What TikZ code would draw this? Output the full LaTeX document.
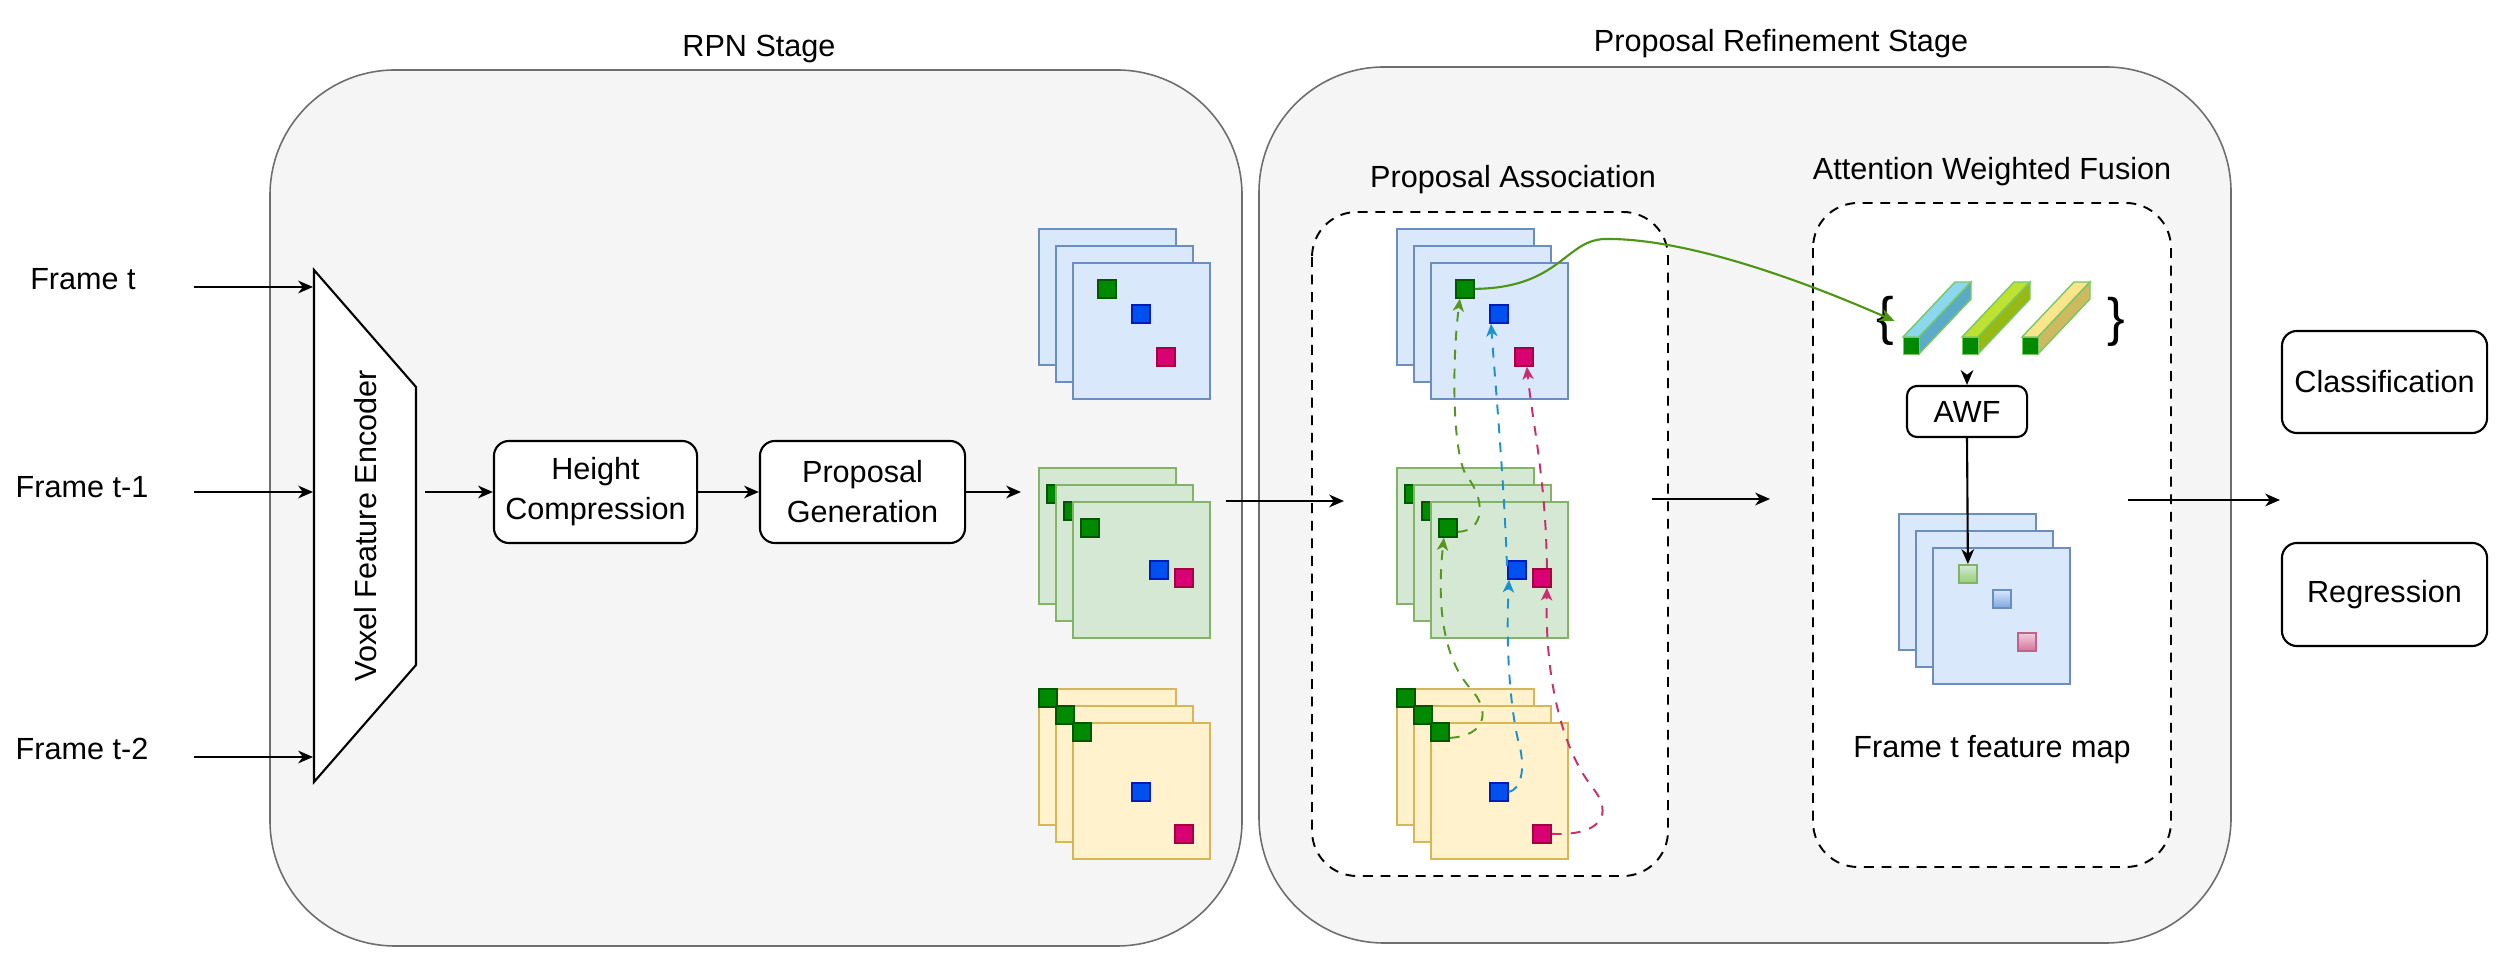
\documentclass[tikz,border=0pt]{standalone}
\usepackage{fontspec}
\setmainfont{Liberation Sans}
\usetikzlibrary{arrows.meta,calc}
\definecolor{stagefill}{RGB}{245,245,245}
\definecolor{stagedraw}{RGB}{110,110,110}
\definecolor{bluefill}{RGB}{218,232,252}
\definecolor{bluedraw}{RGB}{108,142,191}
\definecolor{greenfill}{RGB}{213,232,212}
\definecolor{greendraw}{RGB}{130,179,102}
\definecolor{yellowfill}{RGB}{255,242,204}
\definecolor{yellowdraw}{RGB}{214,182,86}
\definecolor{sqgreen}{RGB}{0,138,0}
\definecolor{sqgreend}{RGB}{0,87,0}
\definecolor{sqblue}{RGB}{0,80,239}
\definecolor{sqblued}{RGB}{0,29,188}
\definecolor{sqmag}{RGB}{216,0,115}
\definecolor{sqmagd}{RGB}{165,0,64}
\definecolor{lnkgreen}{RGB}{85,150,30}
\definecolor{lnkblue}{RGB}{30,145,205}
\definecolor{lnkmag}{RGB}{200,45,110}
\definecolor{solidgreen}{RGB}{77,150,20}
\definecolor{prismline}{RGB}{120,200,100}
\newcommand{\mkfm}[5]{\node[fm,fill=#4,draw=#5] (#1) at (#2,#3) {};}
\newcommand{\mkprism}[4]{%
  \filldraw[prismedge,fill=#3] (#2,337) -- ++(16,0) -- ++(52,-55) -- ++(-16,0) -- cycle;
  \filldraw[prismedge,fill=#4] (#2+16,337) -- ++(0,17) -- ++(52,-55) -- ++(0,-17) -- cycle;
  \node[prismfront] (#1) at (#2,337) {};}
\begin{document}
\begin{tikzpicture}[x=0.01cm,y=-0.01cm,
  every node/.style={font=\fontsize{8.7}{11.4}\selectfont},
  stage/.style={fill=stagefill,draw=stagedraw,line width=0.45pt,rounded corners=1.25cm},
  dbox/.style={fill=white,draw=black,line width=0.55pt,dash pattern=on 2.8pt off 2.2pt,rounded corners=0.45cm},
  proc/.style={draw=black,fill=white,line width=0.6pt,rounded corners=0.15cm,align=center,inner sep=0pt},
  lbl/.style={anchor=base,inner sep=0pt},
  arr/.style={line width=0.6pt,-{Stealth[length=4.2pt,width=3.6pt,inset=1.3pt]}},
  fm/.style={anchor=north west,minimum width=1.37cm,minimum height=1.36cm,inner sep=0pt,line width=0.5pt},
  sq/.style={anchor=north west,minimum size=0.18cm,inner sep=0pt,line width=0.5pt},
  sqg/.style={sq,fill=sqgreen,draw=sqgreend},
  sqb/.style={sq,fill=sqblue,draw=sqblued},
  sqm/.style={sq,fill=sqmag,draw=sqmagd},
  lsqg/.style={sq,top color={rgb,255:red,213;green,232;blue,212},bottom color={rgb,255:red,151;green,208;blue,119},draw=greendraw},
  lsqb/.style={sq,top color={rgb,255:red,218;green,232;blue,252},bottom color={rgb,255:red,126;green,166;blue,224},draw=bluedraw},
  lsqm/.style={sq,top color={rgb,255:red,242;green,205;blue,220},bottom color={rgb,255:red,215;green,115;blue,157},draw={rgb,255:red,190;green,100;blue,135}},
  lnk/.style={line width=0.55pt,dash pattern=on 2.8pt off 2.6pt,-{Stealth[length=3.6pt,width=3.2pt,inset=1pt]}},
  prismedge/.style={draw=prismline,line width=0.4pt},
  prismfront/.style={anchor=north west,minimum width=0.16cm,minimum height=0.17cm,inner sep=0pt,fill=sqgreen,draw=prismline,line width=0.4pt}
]
\useasboundingbox (0,0) rectangle (2509,971);
\fill[white] (0,0) rectangle (2509,971);

% stage boxes
\draw[stage] (270,70) rectangle (1242,946);
\draw[stage] (1259,67) rectangle (2231,943);
\node[lbl] (rpnlbl) at (759,57) {RPN Stage};
\node[lbl] (prslbl) at (1781,52) {Proposal Refinement Stage};

% dashed sub boxes
\draw[dbox] (1312,212) rectangle (1668,876);
\draw[dbox] (1813,203) rectangle (2171,867);
\node[lbl] (palbl) at (1513,188) {Proposal Association};
\node[lbl] (awflbl) at (1992,180) {Attention Weighted Fusion};

% inputs
\node[lbl] (ft0) at (83,290) {Frame t};
\node[lbl] (ft1) at (82,498) {Frame t-1};
\node[lbl] (ft2) at (82,760) {Frame t-2};
\coordinate (in0) at (194,287);
\coordinate (in1) at (194,492);
\coordinate (in2) at (194,757);

% encoder
\draw[fill=white,line width=0.6pt] (314,270) -- (416,387) -- (416,665) -- (314,782) -- cycle;
\node[rotate=90,inner sep=0pt] (enc) at (366,526) {Voxel Feature Encoder};
\coordinate (enc0) at (313,287);
\coordinate (enc1) at (313,492);
\coordinate (enc2) at (313,757);
\coordinate (encout) at (425,492);
\draw[arr] (in0) -- (enc0);
\draw[arr] (in1) -- (enc1);
\draw[arr] (in2) -- (enc2);

% process boxes
\node[proc,minimum width=2.03cm,minimum height=1.02cm] (hc) at (595.5,492) {Height\\Compression};
\node[proc,minimum width=2.05cm,minimum height=1.02cm] (pg) at (862.5,492) {Proposal\\Generation};
\draw[arr] (encout) -- (hc.west);
\draw[arr] (hc.east) -- (pg.west);
\coordinate (pgend) at (1021,492);
\draw[arr] (pg.east) -- (pgend);

% RPN stacks
\mkfm{Rb1}{1038}{228}{bluefill}{bluedraw}
\mkfm{Rb2}{1055}{245}{bluefill}{bluedraw}
\mkfm{Rb3}{1072}{262}{bluefill}{bluedraw}
\node[sqg] (Rbg) at (1097,279) {};
\node[sqb] (Rbb) at (1131,304) {};
\node[sqm] (Rbm) at (1156,347) {};

\mkfm{Rg1}{1038}{467}{greenfill}{greendraw}
\node[sqg] (Rgg1) at (1046,484) {};
\mkfm{Rg2}{1055}{484}{greenfill}{greendraw}
\node[sqg] (Rgg2) at (1063,501) {};
\mkfm{Rg3}{1072}{501}{greenfill}{greendraw}
\node[sqg] (Rgg3) at (1080,518) {};
\node[sqb] (Rgb) at (1149,560) {};
\node[sqm] (Rgm) at (1174,568) {};

\mkfm{Ry1}{1038}{688}{yellowfill}{yellowdraw}
\node[sqg] (Ryg1) at (1038,688) {};
\mkfm{Ry2}{1055}{705}{yellowfill}{yellowdraw}
\node[sqg] (Ryg2) at (1055,705) {};
\mkfm{Ry3}{1072}{722}{yellowfill}{yellowdraw}
\node[sqg] (Ryg3) at (1072,722) {};
\node[sqb] (Ryb) at (1131,782) {};
\node[sqm] (Rym) at (1174,824) {};

\coordinate (rpnout) at (1226,501);
\coordinate (pain) at (1344,501);
\draw[arr] (rpnout) -- (pain);

% PA stacks
\mkfm{Pb1}{1396}{228}{bluefill}{bluedraw}
\mkfm{Pb2}{1413}{245}{bluefill}{bluedraw}
\mkfm{Pb3}{1430}{262}{bluefill}{bluedraw}
\node[sqg] (Pbg) at (1455,279) {};
\node[sqb] (Pbb) at (1489,304) {};
\node[sqm] (Pbm) at (1514,347) {};

\mkfm{Pg1}{1396}{467}{greenfill}{greendraw}
\node[sqg] (Pgg1) at (1404,484) {};
\mkfm{Pg2}{1413}{484}{greenfill}{greendraw}
\node[sqg] (Pgg2) at (1421,501) {};
\mkfm{Pg3}{1430}{501}{greenfill}{greendraw}
\node[sqg] (Pgg3) at (1438,518) {};
\node[sqb] (Pgb) at (1507,560) {};
\node[sqm] (Pgm) at (1532,568) {};

\mkfm{Py1}{1396}{688}{yellowfill}{yellowdraw}
\node[sqg] (Pyg1) at (1396,688) {};
\mkfm{Py2}{1413}{705}{yellowfill}{yellowdraw}
\node[sqg] (Pyg2) at (1413,705) {};
\mkfm{Py3}{1430}{722}{yellowfill}{yellowdraw}
\node[sqg] (Pyg3) at (1430,722) {};
\node[sqb] (Pyb) at (1489,782) {};
\node[sqm] (Pym) at (1532,824) {};

% association links
\draw[lnk,draw=lnkgreen] ($(Pyg3.east)+(0,6)$) .. controls (1485,736) and (1492,712) .. (1470,688) .. controls (1445,660) and (1436,610) .. ($(Pgg3.south)+(-4,0)$);
\draw[lnk,draw=lnkgreen] ($(Pgg3.east)+(0,4)$) .. controls (1485,531) and (1486,500) .. (1466,475) .. controls (1452,450) and (1452,360) .. ($(Pbg.south)+(-5,0)$);
\draw[lnk,draw=lnkblue] (Pyb.east) .. controls (1520,790) and (1527,770) .. (1518,740) .. controls (1509,700) and (1506,640) .. ($(Pgb.south west)+(2,0)$);
\draw[lnk,draw=lnkblue] ($(Pgb.north west)+(0,6)$) .. controls (1504,480) and (1495,380) .. ($(Pbb.south west)+(2,0)$);
\draw[lnk,draw=lnkmag] (Pym.east) .. controls (1600,836) and (1615,815) .. (1592,787) .. controls (1562,748) and (1545,680) .. ($(Pgm.south)+(5,0)$);
\draw[lnk,draw=lnkmag] ($(Pgm.north)+(5,0)$) .. controls (1546,480) and (1532,420) .. ($(Pbm.south)+(3,0)$);

\draw[arr] (1652,499) coordinate (paout) -- (1770,499) coordinate (awfin);

% AWF part
\node[inner sep=0pt,font=\fontsize{15}{18}\selectfont] (lbr) at (1885,321) {\{};
\node[inner sep=0pt,font=\fontsize{15}{18}\selectfont] (rbr) at (2116,322) {\}};
\mkprism{bar1}{1903}{{rgb,255:red,140;green,215;blue,240}}{{rgb,255:red,90;green,170;blue,200}}
\mkprism{bar2}{1962}{{rgb,255:red,190;green,225;blue,50}}{{rgb,255:red,150;green,185;blue,20}}
\mkprism{bar3}{2022}{{rgb,255:red,250;green,228;blue,140}}{{rgb,255:red,205;green,185;blue,95}}

\draw[line width=0.6pt,draw=solidgreen,-{Stealth[length=4.2pt,width=3.6pt,inset=1.3pt]}] (Pbg.east) .. controls (1560,288) and (1565,240) .. (1605,239) .. controls (1680,238) and (1790,275) .. (lbr.east);

\node[proc,minimum width=1.2cm,minimum height=0.51cm,rounded corners=0.1cm] (awf) at (1967,411.5) {AWF};
\draw[arr,shorten <=7pt] (bar2.south -| awf.north) -- (awf.north);

\mkfm{F1}{1898}{513}{bluefill}{bluedraw}
\mkfm{F2}{1915}{530}{bluefill}{bluedraw}
\mkfm{F3}{1932}{547}{bluefill}{bluedraw}
\node[lsqg] (Fg) at (1958,564) {};
\node[lsqb] (Fb) at (1992,589) {};
\node[lsqm] (Fm) at (2017,632) {};
\draw[arr] (awf.south) -- (Fg.north);
\node[lbl] (ftfm) at (1992,758) {Frame t feature map};

% outputs
\node[proc,minimum width=2.05cm,minimum height=1.02cm] (cls) at (2384.5,382) {Classification};
\node[proc,minimum width=2.05cm,minimum height=1.03cm] (reg) at (2384.5,594.5) {Regression};
\draw[arr] (2128,500) coordinate (awfout) -- (2280,500) coordinate (headin);
\end{tikzpicture}
\end{document}
